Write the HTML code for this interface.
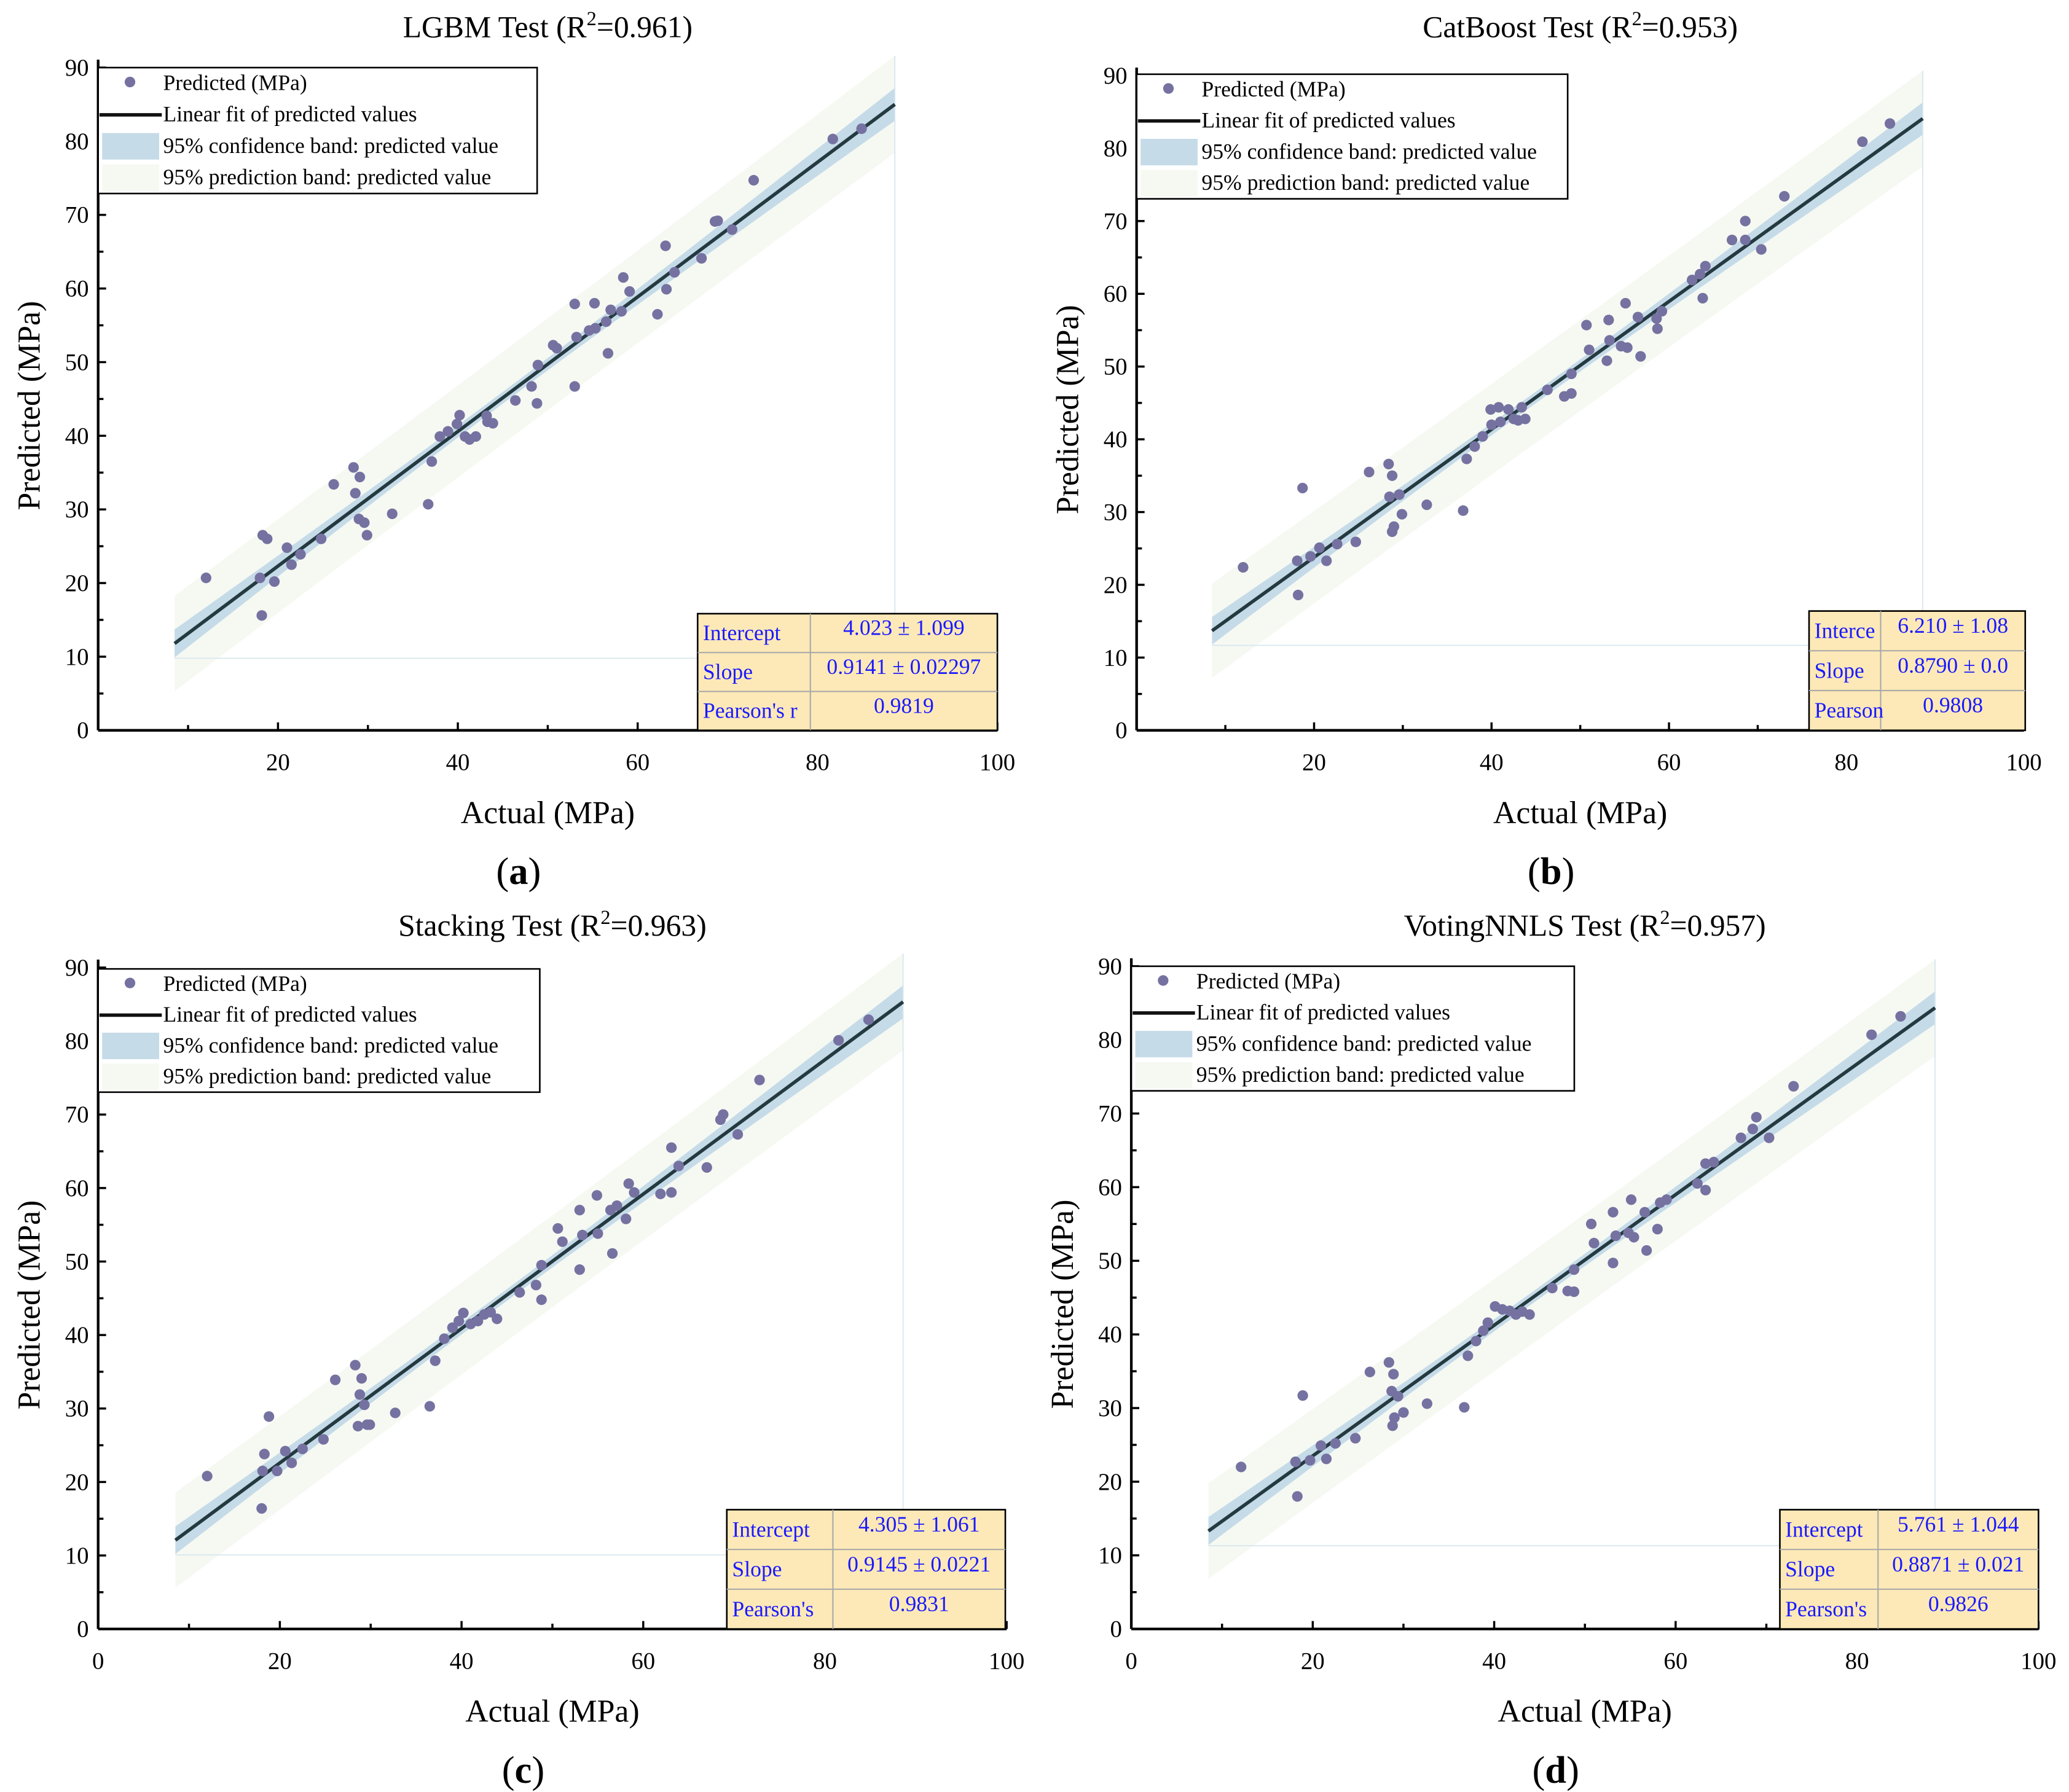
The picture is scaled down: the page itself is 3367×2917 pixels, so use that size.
<!DOCTYPE html>
<html><head><meta charset="utf-8"><title>Model test scatter plots</title>
<style>
html,body{margin:0;padding:0;background:#fff;}
svg{display:block;}
svg text{font-family:"Liberation Serif","Times New Roman",serif;}
</style></head>
<body>
<svg id="fig" width="3367" height="2917" viewBox="0 0 1560 1352" preserveAspectRatio="none" font-family="Liberation Serif, serif" xmlns="http://www.w3.org/2000/svg">
<rect x="0" y="0" width="1560" height="1352" fill="#fff"/>
</svg>
<script>
// ---- data ----
const xTicks = [0, 20, 40, 60, 80, 100];
const yTicks = [0, 10, 20, 30, 40, 50, 60, 70, 80, 90];

const lgbmActual = [12.0,18.0,18.3,18.8,18.2,19.6,21.0,21.5,22.5,24.8,26.2,28.4,28.6,29.1,29.0,29.6,29.9,32.7,36.7,37.1,38.0,38.9,39.9,40.2,40.8,41.3,42.0,43.2,43.3,43.9,46.4,48.2,48.8,48.9,50.6,51.0,53.0,53.0,53.2,54.6,55.2,55.3,56.5,56.7,57.0,58.2,58.4,59.1,62.2,63.1,63.2,64.1,67.1,68.6,68.9,70.5,72.9,81.7,84.9];
const lgbmPred = [20.7,20.7,26.5,26.0,15.6,20.2,24.8,22.5,23.9,26.0,33.4,35.7,32.2,34.4,28.7,28.2,26.5,29.4,30.7,36.5,39.9,40.6,41.6,42.8,39.9,39.5,39.9,42.7,41.9,41.7,44.8,46.7,44.4,49.6,52.3,51.9,46.7,57.9,53.4,54.3,58.0,54.6,55.5,51.2,57.1,56.9,61.5,59.6,56.5,65.8,59.9,62.2,64.1,69.1,69.2,68.0,74.7,80.3,81.7];

const catActual = [12.0,18.1,18.2,18.7,19.6,20.6,21.4,22.6,24.7,26.2,28.4,28.8,28.5,29.0,28.8,29.9,29.6,32.7,36.8,37.2,38.1,39.0,40.0,39.9,40.8,41.9,41.0,43.0,42.5,43.8,43.4,46.3,48.2,49.0,49.0,50.7,51.0,53.0,53.2,53.3,54.6,55.1,55.3,56.5,56.8,58.7,59.2,58.6,62.6,63.5,63.8,64.1,67.1,68.6,68.6,70.4,73.0,81.8,84.9];
const catPred = [22.4,23.3,18.6,33.3,23.9,25.1,23.3,25.6,25.9,35.5,36.6,35.0,32.1,28.0,27.3,29.7,32.4,31.0,30.2,37.3,39.0,40.4,42.0,44.1,44.4,44.1,42.4,42.6,42.8,42.8,44.4,46.8,45.9,46.3,49.0,55.7,52.3,50.8,56.4,53.6,52.8,58.7,52.6,56.8,51.4,55.2,57.6,56.6,61.9,62.7,59.4,63.8,67.4,70.0,67.4,66.1,73.4,80.9,83.4];

const stackActual = [12.0,18.0,18.1,18.3,18.8,19.7,20.6,21.3,22.5,24.8,26.1,28.3,28.8,29.0,28.6,29.6,29.3,29.9,32.7,36.5,37.1,38.1,39.0,39.7,40.2,41.0,41.8,42.5,43.2,43.9,46.4,48.2,48.8,48.8,50.6,51.1,53.0,53.0,53.3,54.9,55.0,56.4,56.6,57.1,58.1,58.4,59.0,61.9,63.1,63.1,63.9,67.0,68.5,68.8,70.4,72.8,81.5,84.8];
const stackPred = [20.8,16.4,21.5,23.8,28.9,21.5,24.2,22.6,24.5,25.8,33.9,35.9,31.9,34.1,27.6,27.8,30.5,27.8,29.4,30.3,36.5,39.5,41.0,41.9,43.0,41.5,41.9,42.8,43.1,42.2,45.8,46.8,44.8,49.5,54.5,52.7,48.9,57.0,53.6,59.0,53.8,57.0,51.1,57.6,55.8,60.6,59.4,59.2,65.5,59.4,63.0,62.8,69.3,70.0,67.3,74.7,80.1,82.9];

const voteActual = [12.1,18.3,18.1,18.9,19.7,20.9,21.5,22.5,24.7,26.3,28.4,28.9,28.7,29.4,28.8,29.0,30.0,32.6,36.7,37.1,38.0,38.8,39.3,40.1,40.9,41.7,42.4,43.1,43.9,46.4,48.1,48.8,48.8,50.7,51.0,53.1,53.1,53.4,55.1,54.8,55.4,56.6,56.8,58.0,58.3,59.0,62.4,63.3,63.3,64.2,67.2,68.9,68.5,70.3,73.0,81.6,84.8];
const votePred = [22.0,18.0,22.7,31.7,22.9,24.9,23.1,25.2,25.9,34.9,36.2,34.6,32.3,31.6,27.6,28.7,29.4,30.6,30.1,37.1,39.1,40.5,41.6,43.8,43.4,43.2,42.7,43.1,42.7,46.3,45.9,45.8,48.8,55.0,52.4,49.7,56.6,53.4,58.3,53.8,53.2,56.6,51.4,54.3,57.9,58.3,60.5,63.2,59.6,63.4,66.7,69.5,67.9,66.7,73.7,80.7,83.2];

const intercepts = [4.023, 6.210, 4.305, 5.761];
const slopes = [0.9141, 0.8790, 0.9145, 0.8871];
const r2Labels = ["0.961", "0.953", "0.963", "0.957"];
const titles = ["LGBM Test", "CatBoost Test", "Stacking Test", "VotingNNLS Test"];
const interceptText = ["4.023 ± 1.099", "6.210 ± 1.08", "4.305 ± 1.061", "5.761 ± 1.044"];
const slopeText = ["0.9141 ± 0.02297", "0.8790 ± 0.0", "0.9145 ± 0.0221", "0.8871 ± 0.021"];
const pearsonText = ["0.9819", "0.9808", "0.9831", "0.9826"];
const statLabels = [["Intercept","Slope","Pearson's r"],["Interce","Slope","Pearson"],["Intercept","Slope","Pearson's"],["Intercept","Slope","Pearson's"]];
const panelLetters = ["a", "b", "c", "d"];

// ---- layout (geometry only) ----
const layout = [
  {x0:74, xr:752, y0:551, y90:51, leg:[74,51,405,146], box:[526,463,752,551,611], showX0:false},
  {x0:857, xr:1526, y0:551, y90:57, leg:[857,56,1182,150], box:[1364,461,1527,551,1418], showX0:false},
  {x0:74, xr:759, y0:1229, y90:730, leg:[74,731,407,824], box:[548,1139,758,1229,628], showX0:true},
  {x0:853, xr:1537, y0:1229, y90:729, leg:[853,729,1187,823], box:[1342,1139,1537,1229,1416], showX0:true}
];
const actuals = [lgbmActual, catActual, stackActual, voteActual];
const preds = [lgbmPred, catPred, stackPred, votePred];

const NS = "http://www.w3.org/2000/svg";
const svg = document.getElementById("fig");
const FONT = '"Liberation Serif", "Times New Roman", serif';
function mk(tag, attrs, parent, txt){
  const e = document.createElementNS(NS, tag);
  for (const k in attrs) e.setAttribute(k, attrs[k]);
  if (tag === "text") e.setAttribute("font-family", FONT);
  if (txt !== undefined) e.textContent = txt;
  parent.appendChild(e);
  return e;
}

for (let p = 0; p < 4; p++) {
  const L = layout[p];
  const xs = v => L.x0 + (L.xr - L.x0) * v / 100;
  const ys = v => L.y0 - (L.y0 - L.y90) * v / 90;
  const g = mk("g", {}, svg);
  
  
  const cx = (L.x0 + L.xr) / 2;

  // bands
  const xa = actuals[p];
  const xm = xa.reduce((s,v)=>s+v,0)/xa.length;
  const xStart = 8.5, xEnd = 88.6;
  const b0 = intercepts[p], b1 = slopes[p];
  const conf = x => Math.sqrt(0.8*0.8 + Math.pow(1.9*(x-xm)/40, 2));
  const pred = x => Math.sqrt(6.2*6.2 + Math.pow(conf(x),2));
  let upP=[], loP=[], upC=[], loC=[];
  for (let i=0;i<=40;i++){
    const x = xStart + (xEnd-xStart)*i/40;
    const yf = b0 + b1*x;
    upP.push(xs(x)+","+ys(yf+pred(x))); loP.unshift(xs(x)+","+ys(yf-pred(x)));
    upC.push(xs(x)+","+ys(yf+conf(x))); loC.unshift(xs(x)+","+ys(yf-conf(x)));
  }
  const pb = mk("polygon", {points: upP.concat(loP).join(" "), fill:"#f6f9f2"}, g);
  
  
  const cb = mk("polygon", {points: upC.concat(loC).join(" "), fill:"#c6dbe8"}, g);
  
  
  const yRef = b0 + b1*xStart - 2.0;
  mk("line", {x1:xs(xEnd), y1:ys(b0+b1*xEnd+pred(xEnd)), x2:xs(xEnd), y2:ys(yRef), stroke:"#d6e6ee", "stroke-width":0.8}, g);
  mk("line", {x1:xs(xStart), y1:ys(yRef), x2:L.box[0], y2:ys(yRef), stroke:"#d6e6ee", "stroke-width":0.8}, g);

  // fit line
  const fl = mk("line", {x1:xs(xStart), y1:ys(b0+b1*xStart), x2:xs(xEnd), y2:ys(b0+b1*xEnd), stroke:"#243a40", "stroke-width":2.6}, g);
  
  

  // points
  for (let i=0;i<xa.length;i++){
    const c = mk("circle", {cx:xs(xa[i]), cy:ys(preds[p][i]), r:4, fill:"#7572a1"}, g);
    
    
  }

  // axes
  const ax = mk("g", {}, g);
  
  
  mk("line", {x1:L.x0, y1:L.y0, x2:L.xr, y2:L.y0, stroke:"#000", "stroke-width":2}, ax);
  mk("line", {x1:L.x0, y1:L.y0, x2:L.x0, y2:L.y90-6, stroke:"#000", "stroke-width":2}, ax);
  for (let v=5; v<=90; v+=5){
    const major = v % 10 === 0;
    mk("line", {x1:L.x0, y1:ys(v), x2:L.x0+(major?6:4), y2:ys(v), stroke:"#000", "stroke-width":1.6}, ax);
  }
  for (let v=10; v<=100; v+=10){
    const major = v % 20 === 0;
    mk("line", {x1:xs(v), y1:L.y0, x2:xs(v), y2:L.y0-(major?6:4), stroke:"#000", "stroke-width":1.6}, ax);
  }
  yTicks.forEach(v => {
    const t = mk("text", {x:L.x0-7, y:ys(v)+6, "font-size":18, "text-anchor":"end", fill:"#000"}, ax, String(v));
    
    
  });
  xTicks.forEach(v => {
    if (v === 0 && !L.showX0) return;
    const t = mk("text", {x:xs(v), y:L.y0+30, "font-size":18, "text-anchor":"middle", fill:"#000"}, ax, String(v));
    
    
  });

  // titles
  const tt = mk("text", {x:cx, y:L.y0-523, "font-size":23, "text-anchor":"middle", fill:"#000"}, g);
  
  
  mk("tspan", {}, tt, titles[p] + " (R");
  mk("tspan", {dy:-9, "font-size":15}, tt, "2");
  mk("tspan", {dy:9}, tt, "=" + r2Labels[p] + ")");
  const xt = mk("text", {x:cx, y:L.y0+70, "font-size":24, "text-anchor":"middle", fill:"#000"}, g, "Actual (MPa)");
  
  
  const yx = L.x0-44, yy = (L.y0+L.y90)/2+5;
  const yt = mk("text", {x:yx, y:yy, "font-size":24, "text-anchor":"middle", fill:"#000", transform:"rotate(-90 "+yx+" "+yy+")"}, g, "Predicted (MPa)");
  
  
  const lt = mk("text", {x:cx-22, y:L.y0+116, "font-size":29, "text-anchor":"middle", fill:"#000"}, g);
  
  
  mk("tspan", {}, lt, "(");
  mk("tspan", {"font-weight":"bold"}, lt, panelLetters[p]);
  mk("tspan", {}, lt, ")");

  // legend
  const [lx0, ly0, lx1, ly1] = L.leg;
  const lg = mk("g", {}, g);
  
  
  mk("rect", {x:lx0, y:ly0, width:lx1-lx0, height:ly1-ly0, fill:"#fff", stroke:"#000", "stroke-width":1.2}, lg);
  const rh = (ly1-ly0)/4;
  const labels = ["Predicted (MPa)","Linear fit of predicted values","95% confidence band: predicted value","95% prediction band: predicted value"];
  for (let i=0;i<4;i++){
    const cyy = ly0 + rh*(i+0.5);
    const e = mk("g", {}, lg);
    
    
    if (i===0) mk("circle", {cx:lx0+24, cy:cyy-1, r:4, fill:"#7572a1"}, e);
    if (i===1) mk("line", {x1:lx0+1, y1:cyy, x2:lx0+48, y2:cyy, stroke:"#111", "stroke-width":2.6}, e);
    if (i===2) mk("rect", {x:lx0+3, y:cyy-10, width:43, height:20, fill:"#c6dbe8"}, e);
    if (i===3) mk("rect", {x:lx0+3, y:cyy-10, width:43, height:20, fill:"#f6f9f2"}, e);
    mk("text", {x:lx0+49, y:cyy+5, "font-size":16.5, fill:"#000"}, e, labels[i]);
  }

  // stats box
  const [bx0, by0, bx1, by1, bxs] = L.box;
  const sb = mk("g", {}, g);
  
  
  mk("rect", {x:bx0, y:by0, width:bx1-bx0, height:by1-by0, fill:"#fde9b7", stroke:"#000", "stroke-width":1.2}, sb);
  const bh = (by1-by0)/3;
  mk("line", {x1:bxs, y1:by0, x2:bxs, y2:by1, stroke:"#aaa", "stroke-width":1}, sb);
  mk("line", {x1:bx0, y1:by0+bh, x2:bx1, y2:by0+bh, stroke:"#aaa", "stroke-width":1}, sb);
  mk("line", {x1:bx0, y1:by0+2*bh, x2:bx1, y2:by0+2*bh, stroke:"#aaa", "stroke-width":1}, sb);
  const vals = [interceptText[p], slopeText[p], pearsonText[p]];
  for (let i=0;i<3;i++){
    mk("text", {x:bx0+4, y:by0+bh*i+bh*0.68, "font-size":16.5, fill:"#1a1aff"}, sb, statLabels[p][i]);
    mk("text", {x:(bxs+bx1)/2, y:by0+bh*i+bh*0.55, "font-size":16.5, "text-anchor":"middle", fill:"#1a1aff"}, sb, vals[i]);
  }
}
</script>
</body></html>
